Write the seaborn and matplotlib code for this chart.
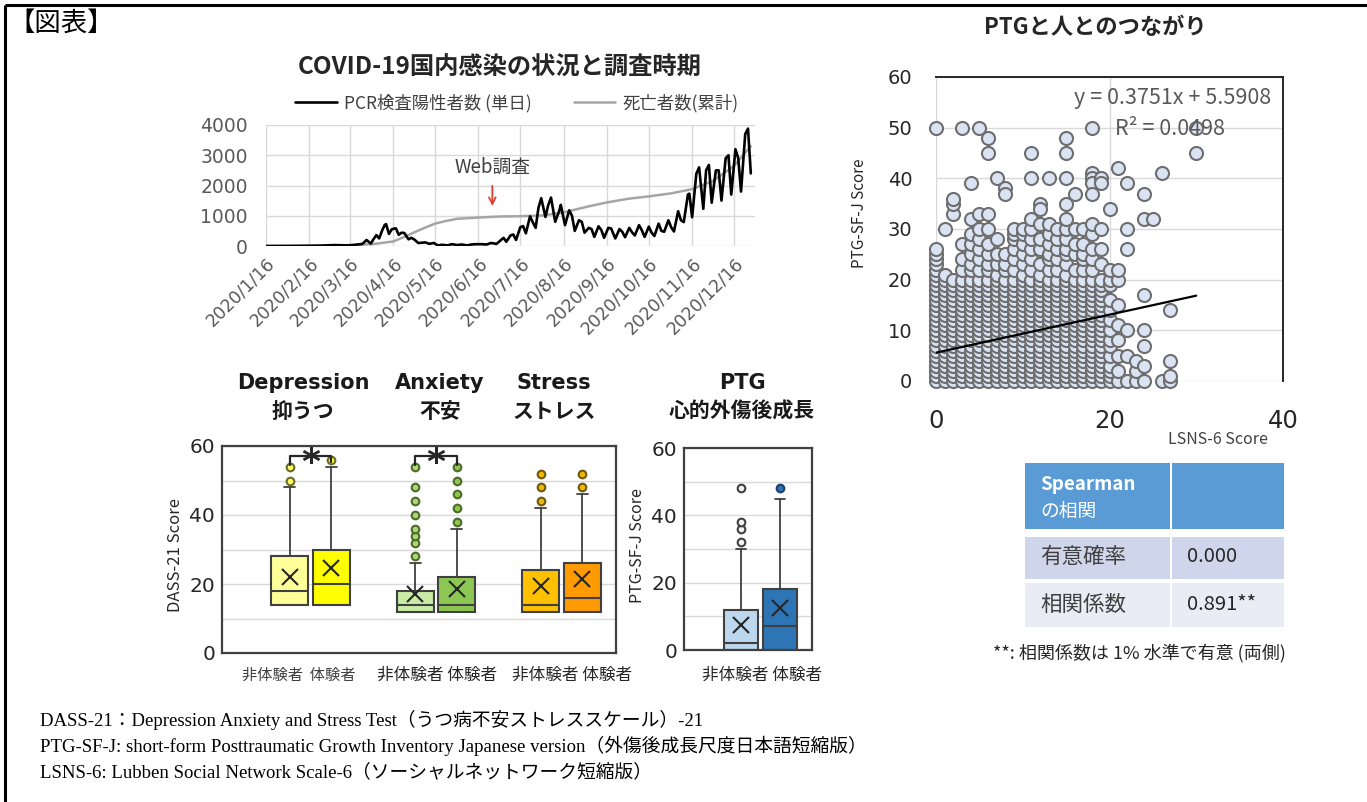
import matplotlib
matplotlib.use("Agg")
import matplotlib.pyplot as plt
import matplotlib.dates as mdates
from matplotlib.patches import Rectangle
import numpy as np
import pandas as pd
import seaborn as sns

# ---------------- data: COVID-19 time series ----------------
pcr_dates = [
    "2020-01-16", "2020-01-31", "2020-02-15", "2020-02-25", "2020-03-05", "2020-03-15",
    "2020-03-20", "2020-03-25", "2020-03-28", "2020-03-31", "2020-04-02", "2020-04-04",
    "2020-04-06", "2020-04-08", "2020-04-10", "2020-04-11", "2020-04-13", "2020-04-15",
    "2020-04-17", "2020-04-18", "2020-04-20", "2020-04-22", "2020-04-24", "2020-04-27",
    "2020-04-29", "2020-05-01", "2020-05-04", "2020-05-07", "2020-05-09", "2020-05-12",
    "2020-05-15", "2020-05-18", "2020-05-21", "2020-05-25", "2020-05-28", "2020-06-01",
    "2020-06-04", "2020-06-08", "2020-06-11", "2020-06-15", "2020-06-18", "2020-06-22",
    "2020-06-25", "2020-06-29", "2020-07-02", "2020-07-04", "2020-07-06", "2020-07-09",
    "2020-07-11", "2020-07-13", "2020-07-16", "2020-07-18", "2020-07-20", "2020-07-23",
    "2020-07-25", "2020-07-27", "2020-07-29", "2020-07-31", "2020-08-03", "2020-08-05",
    "2020-08-07", "2020-08-10", "2020-08-13", "2020-08-14", "2020-08-17", "2020-08-20",
    "2020-08-22", "2020-08-24", "2020-08-27", "2020-08-29", "2020-08-31", "2020-09-03",
    "2020-09-05", "2020-09-07", "2020-09-10", "2020-09-12", "2020-09-14", "2020-09-17",
    "2020-09-19", "2020-09-22", "2020-09-25", "2020-09-27", "2020-09-29", "2020-10-02",
    "2020-10-04", "2020-10-06", "2020-10-09", "2020-10-11", "2020-10-13", "2020-10-16",
    "2020-10-18", "2020-10-20", "2020-10-23", "2020-10-25", "2020-10-27", "2020-10-30",
    "2020-11-01", "2020-11-03", "2020-11-06", "2020-11-08", "2020-11-10", "2020-11-13",
    "2020-11-14", "2020-11-16", "2020-11-19", "2020-11-21", "2020-11-24", "2020-11-26",
    "2020-11-28", "2020-11-30", "2020-12-03", "2020-12-05", "2020-12-07", "2020-12-10",
    "2020-12-12", "2020-12-14", "2020-12-17", "2020-12-19", "2020-12-21", "2020-12-24",
    "2020-12-26", "2020-12-28",
]
pcr_values = [
    0, 2, 8, 15, 30, 20,
    40, 70, 200, 80, 230, 360,
    250, 500, 700, 720, 400, 550,
    580, 580, 370, 440, 430, 220,
    270, 220, 100, 110, 120, 70,
    100, 20, 40, 20, 60, 30,
    50, 20, 50, 60, 60, 50,
    100, 70, 190, 270, 140, 350,
    380, 200, 620, 660, 420, 980,
    780, 600, 1260, 1580, 960, 1350,
    1600, 800, 1180, 1360, 690, 1180,
    1000, 500, 850, 800, 440, 600,
    560, 300, 650, 530, 270, 600,
    580, 250, 560, 470, 290, 600,
    450, 350, 690, 520, 300, 640,
    440, 330, 740, 500, 470, 850,
    620, 480, 1150, 850, 790, 1700,
    1730, 950, 2390, 2600, 1230, 2500,
    2680, 1430, 2500, 2500, 1500, 2900,
    3000, 1700, 3200, 2900, 1800, 3700,
    3880, 2400,
]
death_dates = [
    "2020-01-16", "2020-02-13", "2020-02-20", "2020-03-01", "2020-03-16", "2020-04-01",
    "2020-04-16", "2020-04-24", "2020-05-01", "2020-05-08", "2020-05-16", "2020-05-24",
    "2020-06-01", "2020-06-16", "2020-07-01", "2020-07-16", "2020-08-01", "2020-08-16",
    "2020-09-01", "2020-09-16", "2020-10-01", "2020-10-16", "2020-11-01", "2020-11-16",
    "2020-12-01", "2020-12-16", "2020-12-28",
]
death_values = [
    0, 0, 1, 6, 30, 60,
    150, 300, 450, 590, 740, 830,
    900, 940, 975, 985, 1010, 1110,
    1290, 1440, 1560, 1640, 1740, 1880,
    2150, 2650, 3300,
]
date_ticks = ["2020-%02d-16" % m for m in range(1, 13)]
date_tick_labels = ["2020/%d/16" % m for m in range(1, 13)]
survey_date = "2020-06-26"

# ---------------- data: box plots ----------------
dass_titles = ["Depression\n抑うつ", "Anxiety\n不安", "Stress\nストレス"]
box_q1 = [14, 14, 12, 12, 12, 12]
box_med = [18, 20, 14, 14, 14, 16]
box_q3 = [28, 30, 18, 22, 24, 26]
box_whislo = [14, 14, 12, 12, 12, 12]
box_whishi = [48, 54, 26, 36, 42, 46]
box_mean = [22, 24.5, 17, 18.5, 19.5, 21.5]
box_fliers = [[50, 54], [56], [28, 32, 34, 36, 40, 44, 48, 54], [38, 42, 46, 50, 54],
              [44, 48, 52], [48, 52]]
box_colors = ["#FFFF99", "#FFFF00", "#C9EBA5", "#8DC753", "#FFC000", "#FF9A00"]
flier_face = ["#FFFF66", "#FFFF33", "#A9D877", "#8DC753", "#F5B800", "#F5B800"]
flier_edge = ["#6B6B2A", "#6B6B2A", "#4F6B28", "#4F6B28", "#6B5A10", "#6B5A10"]

ptg_q1 = [0, 0]
ptg_med = [2, 7]
ptg_q3 = [12, 18]
ptg_whislo = [0, 0]
ptg_whishi = [30, 45]
ptg_mean = [7.5, 12.5]
ptg_fliers = [[32, 36, 38, 48], [48]]
ptg_colors = ["#BDD7EE", "#2E75B6"]
group_labels = "非体験者 体験者"

# ---------------- data: scatter (LSNS-6 vs PTG-SF-J) ----------------
ptg_filled_base = [0, 1, 2, 3, 4, 5, 6, 7, 8, 9, 10, 11, 12, 13, 14, 15, 16, 17, 18, 19, 20]
ptg_upper_by_lsns = [
    [21, 22, 23, 24, 25, 26],        # LSNS 0
    [21, 30],                        # 1
    [33, 35, 36],                    # 2
    [22, 24, 27],                    # 3
    [22, 23, 25, 27, 29, 32],        # 4
    [22, 24, 26, 28, 30, 33],        # 5
    [22, 23, 25, 27, 30, 33],        # 6
    [21, 23, 25, 28],                # 7
    [22, 23, 25],                    # 8
    [22, 24, 26, 28, 29, 30],        # 9
    [21, 23, 25, 27, 29, 30],        # 10
    [22, 24, 26, 28, 30, 32],        # 11
    [21, 23, 26, 28, 31],            # 12
    [22, 24, 25, 27, 29, 31],        # 13
    [22, 24, 26, 28, 30],            # 14
    [21, 23, 25, 26, 28, 30, 32],    # 15
    [22, 25, 27, 30],                # 16
    [22, 24, 25, 27, 30],            # 17
    [22, 24, 26, 29, 31],            # 18
    [23, 26, 30],                    # 19
]
lsns_extra = [20, 20, 20, 20, 20, 20, 20, 20, 20, 20, 20, 20, 20, 20, 20,
              21, 21, 21, 21, 21, 21, 21, 21, 21,
              22, 22, 22, 22, 22, 22, 23, 23, 23, 24, 24, 24, 24, 24, 24, 24,
              25, 26, 26, 27, 27, 27, 27, 30, 30,
              0, 3, 5, 6, 6, 11, 15, 15, 18, 4, 7, 8, 8, 11, 13, 15, 15, 16,
              18, 18, 18, 18, 19, 19, 12, 12]
ptg_extra = [0, 1, 2, 3, 5, 7, 8, 10, 12, 14, 16, 19, 20, 22, 34,
             0, 2, 5, 8, 11, 15, 20, 22, 42,
             0, 5, 10, 26, 30, 39, 0, 2, 4, 0, 3, 7, 10, 17, 32, 37,
             32, 0, 41, 0, 1, 4, 14, 45, 50,
             50, 50, 50, 48, 45, 45, 48, 45, 50, 39, 40, 38, 37, 40, 40, 40, 35, 37,
             41, 40, 39, 37, 40, 39, 35, 34]
trend_slope = 0.3751
trend_intercept = 5.5908
trend_x = [0, 30]

# ---------------- data: table / notes ----------------
table_rows = ["有意確率", "相関係数"]
table_vals = ["0.000", "0.891**"]
notes = [
    "DASS-21：Depression Anxiety and Stress Test（うつ病不安ストレススケール）-21",
    "PTG-SF-J: short-form Posttraumatic Growth Inventory Japanese version（外傷後成長尺度日本語短縮版）",
    "LSNS-6: Lubben Social Network Scale-6（ソーシャルネットワーク短縮版）",
]

# ---------------- style ----------------
sns.set_theme(style="white")
plt.rcParams["font.family"] = ["Noto Sans CJK JP", "DejaVu Sans"]
plt.rcParams["axes.unicode_minus"] = False

W, H = 1367, 802
fig = plt.figure(figsize=(W / 100, H / 100), dpi=100)
fig.patch.set_facecolor("white")


def rect(l, t, r, b):
    return [l / W, 1 - b / H, (r - l) / W, (b - t) / H]


GRID = "#D9D9D9"
DARK = "#404040"
NUMFONT = ["DejaVu Sans"]


def set_tick_font(ax, axis="both"):
    labels = []
    if axis in ("both", "x"):
        labels += ax.get_xticklabels()
    if axis in ("both", "y"):
        labels += ax.get_yticklabels()
    for t in labels:
        t.set_fontfamily(NUMFONT)


# ================= line chart =================
ax1 = fig.add_axes(rect(266, 125, 755, 246))
df_pcr = pd.DataFrame({"date": pd.to_datetime(pcr_dates), "value": pcr_values})
df_death = pd.DataFrame({"date": pd.to_datetime(death_dates), "value": death_values})
sns.lineplot(data=df_death, x="date", y="value", color="#A5A5A5", lw=1.8, ax=ax1,
             label="死亡者数(累計)")
sns.lineplot(data=df_pcr, x="date", y="value", color="black", lw=1.9, ax=ax1,
             label="PCR検査陽性者数 (単日)")
ax1.set_xlim(pd.Timestamp("2020-01-16"), pd.Timestamp("2020-12-31"))
ax1.set_ylim(0, 4000)
ax1.set_xticks(pd.to_datetime(date_ticks))
ax1.set_xticklabels(date_tick_labels, rotation=45, ha="right", rotation_mode="anchor")
ax1.set_yticks([0, 1000, 2000, 3000, 4000])
ax1.set_xlabel("")
ax1.set_ylabel("")
ax1.grid(True, color=GRID, lw=1)
for s in ax1.spines.values():
    s.set_visible(False)
ax1.tick_params(axis="y", length=0, pad=13, labelsize=13.5, labelcolor="#595959")
ax1.tick_params(axis="x", length=0, pad=6, labelsize=12.5, labelcolor="#595959")
set_tick_font(ax1)
h, l = ax1.get_legend_handles_labels()
ax1.legend(h[::-1], l[::-1], loc="center", bbox_to_anchor=(0.513, 1.18), ncol=2,
           frameon=False, fontsize=12.5, handlelength=2.4, columnspacing=2.4,
           handletextpad=0.4, labelcolor="#404040")
sx = mdates.date2num(pd.Timestamp(survey_date))
ax1.annotate("", xy=(sx, 1230), xytext=(sx, 2080),
             arrowprops=dict(arrowstyle="->", color="#E03C31", lw=1.3))
ax1.text(sx, 2600, "Web調査", ha="center", va="center", fontsize=13.5, color="#404040")

# ================= DASS box plots =================
ax2 = fig.add_axes(rect(222, 446, 616, 653))
pos2 = []
for g in range(3):
    pos2 += [g - 0.165, g + 0.165]
stats2 = []
for i in range(6):
    stats2.append(dict(q1=box_q1[i], med=box_med[i], q3=box_q3[i], whislo=box_whislo[i],
                       whishi=box_whishi[i], mean=box_mean[i],
                       fliers=np.array(box_fliers[i], dtype=float)))


def draw_boxes(ax, stats, positions, width, colors, ffaces, fedges):
    res = ax.bxp(stats, positions=positions, widths=width, patch_artist=True,
                 showmeans=True, manage_ticks=False, capwidths=width * 0.3,
                 meanprops=dict(marker="x", markersize=11, markeredgecolor="#262626",
                                markeredgewidth=1.5, linestyle="none"),
                 boxprops=dict(edgecolor=DARK, lw=1.5),
                 medianprops=dict(color=DARK, lw=1.5),
                 whiskerprops=dict(color=DARK, lw=1.3),
                 capprops=dict(color=DARK, lw=1.3),
                 flierprops=dict(marker="o", markersize=5.5, markeredgewidth=1.5))
    for i, b in enumerate(res["boxes"]):
        b.set_facecolor(colors[i])
    for i, f in enumerate(res["fliers"]):
        f.set_markerfacecolor(ffaces[i])
        f.set_markeredgecolor(fedges[i])
    return res


draw_boxes(ax2, stats2, pos2, 0.295, box_colors, flier_face, flier_edge)
ax2.set_xlim(-0.705, 2.434)
ax2.set_ylim(0, 60)
ax2.set_yticks([0, 20, 40, 60])
ax2.set_yticks([10, 30, 50], minor=True)
ax2.set_xticks([])
ax2.grid(True, which="both", axis="y", color=GRID, lw=1)
ax2.set_axisbelow(True)
for s in ax2.spines.values():
    s.set_color(DARK)
    s.set_linewidth(1.6)
ax2.tick_params(axis="y", which="both", length=0, pad=5, labelsize=14.5, labelcolor="#262626")
set_tick_font(ax2, "y")
# significance brackets
for g, (ly, ry) in zip([0, 1], [(54.5, 55.5), (54.5, 54.5)]):
    x0, x1 = pos2[2 * g], pos2[2 * g + 1]
    ax2.plot([x0, x0, x1, x1], [ly, 57.2, 57.2, ry], color="#262626", lw=1.6)
    ax2.text((x0 + x1) / 2, 55.0, "*", ha="center", va="center", fontsize=26,
             fontweight="bold", color="#262626", family=NUMFONT)

# ================= PTG box plot =================
ax3 = fig.add_axes(rect(684, 448, 812, 650))
pos3 = [-0.155, 0.155]
stats3 = []
for i in range(2):
    stats3.append(dict(q1=ptg_q1[i], med=ptg_med[i], q3=ptg_q3[i], whislo=ptg_whislo[i],
                       whishi=ptg_whishi[i], mean=ptg_mean[i],
                       fliers=np.array(ptg_fliers[i], dtype=float)))
draw_boxes(ax3, stats3, pos3, 0.27, ptg_colors, ["#F2F2F2", "#2E75B6"],
           ["#404040", "#1F3F66"])
ax3.set_xlim(-0.61, 0.41)
ax3.set_ylim(0, 60)
ax3.set_yticks([0, 20, 40, 60])
ax3.set_yticks([10, 30, 50], minor=True)
ax3.set_xticks([])
ax3.grid(True, which="both", axis="y", color=GRID, lw=1)
ax3.set_axisbelow(True)
for s in ax3.spines.values():
    s.set_color(DARK)
    s.set_linewidth(1.6)
ax3.tick_params(axis="y", which="both", length=0, pad=5, labelsize=14.5, labelcolor="#262626")
set_tick_font(ax3, "y")

# ================= scatter =================
ax4 = fig.add_axes(rect(936, 77, 1283, 381))
sx_list, sy_list = [], []
for xv, extra in enumerate(ptg_upper_by_lsns):
    for yv in ptg_filled_base + extra:
        sx_list.append(xv)
        sy_list.append(yv)
sx_list += lsns_extra
sy_list += ptg_extra
df_sc = pd.DataFrame({"lsns": sx_list, "ptg": sy_list})
sns.scatterplot(data=df_sc, x="lsns", y="ptg", s=88, color="#DAE3F3",
                edgecolor="#6E6E6E", linewidth=1.5, clip_on=False, ax=ax4, zorder=3)
tx = np.array(trend_x, dtype=float)
ax4.plot(tx, trend_slope * tx + trend_intercept, color="black", lw=1.6, zorder=4)
ax4.set_xlim(0, 40)
ax4.set_ylim(0, 60)
ax4.set_xticks([0, 20, 40])
ax4.set_yticks([0, 10, 20, 30, 40, 50, 60])
ax4.set_xlabel("")
ax4.set_ylabel("")
ax4.grid(True, color=GRID, lw=1)
ax4.set_axisbelow(True)
for k in ["left", "bottom"]:
    ax4.spines[k].set_visible(False)
for k in ["top", "right"]:
    ax4.spines[k].set_color("#262626")
    ax4.spines[k].set_linewidth(1.4)
ax4.tick_params(axis="y", length=0, pad=17, labelsize=14, labelcolor="#262626")
ax4.tick_params(axis="x", length=0, pad=20, labelsize=17.5, labelcolor="#262626")
set_tick_font(ax4)
ax4.text(0.967, 0.93, "y = 0.3751x + 5.5908", transform=ax4.transAxes, ha="right",
         va="center", fontsize=15.5, color="#595959", zorder=5)
ax4.text(0.515, 0.83, "R² = 0.0498", transform=ax4.transAxes, ha="left",
         va="center", fontsize=15.5, color="#595959", zorder=5)

# ================= overlay (titles, table, notes, frame) =================
ov = fig.add_axes([0, 0, 1, 1], zorder=10)
ov.set_xlim(0, W)
ov.set_ylim(H, 0)
ov.axis("off")
ov.patch.set_alpha(0)

ov.plot([5, 5], [5, H], color="black", lw=2.2, solid_capstyle="butt")
ov.plot([5, W], [5, 5], color="black", lw=2.2, solid_capstyle="butt")
ov.text(8, 23, "【図表】", fontsize=19, va="center", ha="left", color="black")

ov.text(500, 68, "COVID-19国内感染の状況と調査時期", fontsize=17.5, fontweight="bold",
        ha="center", va="center", color="#262626")
ov.text(1095, 28, "PTGと人とのつながり", fontsize=16, fontweight="bold",
        ha="center", va="center", color="#262626")

LATIN_BOLD = ["DejaVu Sans", "Noto Sans CJK JP"]
for cx, t in zip([303, 440, 554], dass_titles):
    a, b = t.split("\n")
    ov.text(cx, 383, a, fontsize=15, fontweight="bold", ha="center", va="center",
            color="#1A1A1A", family=LATIN_BOLD)
    ov.text(cx, 411, b, fontsize=15, fontweight="bold", ha="center", va="center", color="#1A1A1A")
ov.text(742, 383, "PTG", fontsize=15, fontweight="bold", ha="center", va="center",
        color="#1A1A1A", family=LATIN_BOLD)
ov.text(742, 411, "心的外傷後成長", fontsize=15, fontweight="bold", ha="center", va="center",
        color="#1A1A1A")

ov.text(299, 675, "非体験者  体験者", fontsize=11, ha="center", va="center", color="#404040")
for cx in [437, 572, 762]:
    ov.text(cx, 675, group_labels, fontsize=12, ha="center", va="center", color="#262626")

ov.text(176, 555, "DASS-21 Score", fontsize=12, rotation=90, ha="center", va="center",
        color="#262626")
ov.text(637, 546, "PTG-SF-J Score", fontsize=11.5, rotation=90, ha="center", va="center",
        color="#262626")
ov.text(860, 213, "PTG-SF-J Score", fontsize=11, rotation=90, ha="center", va="center",
        color="#262626")
ov.text(1218, 440, "LSNS-6 Score", fontsize=11.5, ha="center", va="center", color="#404040")

# table
ov.add_patch(Rectangle((1025, 463), 145, 66, fc="#5B9BD5", ec="none"))
ov.add_patch(Rectangle((1172, 463), 112, 66, fc="#5B9BD5", ec="none"))
for top, bot, c in [(537, 579, "#CFD5EA"), (583, 627, "#E9EBF5")]:
    ov.add_patch(Rectangle((1025, top), 145, bot - top, fc=c, ec="none"))
    ov.add_patch(Rectangle((1172, top), 112, bot - top, fc=c, ec="none"))
ov.text(1040, 485, "Spearman", fontsize=13.5, fontweight="bold", color="white",
        ha="left", va="center")
ov.text(1040, 511, "の相関", fontsize=13.5, color="white", ha="left", va="center")
for yc, lab, val in zip([557, 605], table_rows, table_vals):
    ov.text(1040, yc, lab, fontsize=15.5, color="#404040", ha="left", va="center")
    ov.text(1187, yc, val, fontsize=14.5, color="#262626", ha="left", va="center")
ov.text(993, 653, "**: 相関係数は 1% 水準で有意 (両側)", fontsize=13, color="#262626",
        ha="left", va="center")

for yc, t in zip([720, 746, 772], notes):
    ov.text(40, yc, t, fontsize=13.5, ha="left", va="center", color="black",
            family=["Liberation Serif", "Noto Sans CJK JP"])

fig.savefig("out.png", dpi=100, facecolor="white")
